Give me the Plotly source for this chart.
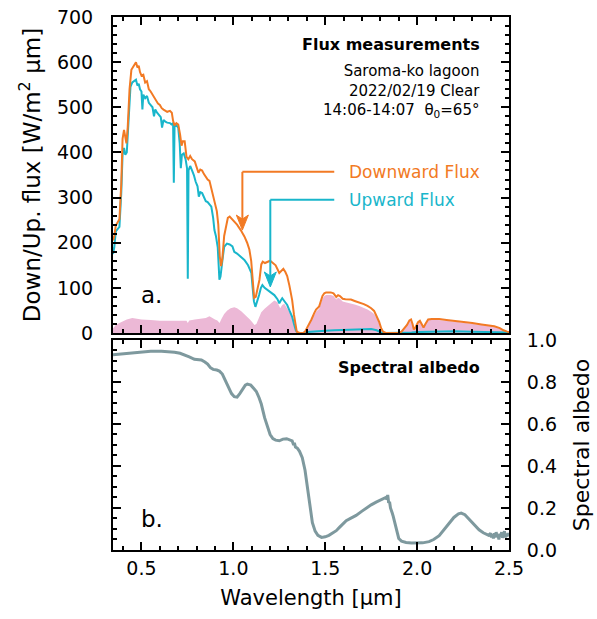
import plotly.graph_objects as go

# ---------------- data ----------------
wl_down = [0.345, 0.352, 0.36, 0.37, 0.38, 0.39, 0.397, 0.405, 0.41, 0.418, 0.425, 0.435, 0.445, 0.455, 0.462,
           0.47, 0.478, 0.485, 0.492, 0.5, 0.51, 0.52, 0.53, 0.54, 0.55, 0.56, 0.57, 0.58, 0.59, 0.6, 0.61, 0.62,
           0.63, 0.64, 0.655, 0.665, 0.672, 0.68, 0.69, 0.7, 0.71, 0.718, 0.725, 0.735, 0.745, 0.755, 0.765, 0.775,
           0.79, 0.8, 0.81, 0.82, 0.83, 0.84, 0.85, 0.86, 0.87, 0.88, 0.89, 0.9, 0.91, 0.918, 0.926, 0.933, 0.94,
           0.95, 0.96, 0.97, 0.98, 0.99, 1.0, 1.02, 1.04, 1.06, 1.075, 1.087, 1.097, 1.105, 1.113, 1.122, 1.132,
           1.142, 1.152, 1.16, 1.172, 1.185, 1.2, 1.215, 1.23, 1.25, 1.262, 1.272, 1.283, 1.293, 1.305, 1.32, 1.33,
           1.337, 1.345, 1.36, 1.38, 1.39, 1.40, 1.413, 1.425, 1.44, 1.45, 1.467, 1.475, 1.485, 1.495, 1.505, 1.53,
           1.545, 1.56, 1.57, 1.58, 1.595, 1.61, 1.64, 1.66, 1.685, 1.71, 1.73, 1.75, 1.766, 1.78, 1.793, 1.805,
           1.815, 1.83, 1.9, 1.915, 1.93, 1.945, 1.958, 1.967, 1.975, 1.982, 1.99, 2.005, 2.015, 2.025, 2.035,
           2.045, 2.06, 2.08, 2.12, 2.16, 2.21, 2.26, 2.3, 2.35, 2.39, 2.42, 2.45, 2.47, 2.49, 2.5]
flux_down = [205, 215, 238, 245, 252, 330, 430, 450, 440, 420, 455, 540, 583, 590, 597,
             600, 588, 592, 578, 570, 572, 555, 558, 540, 535, 528, 520, 515, 508, 505, 498, 495,
             492, 490, 492, 488, 470, 460, 465, 462, 440, 415, 425, 425, 390, 385, 392, 385,
             380, 368, 355, 362, 360, 352, 345, 340, 337, 320, 305, 288, 270, 240, 170, 148, 165,
             215, 240, 255, 258, 254, 250, 240, 228, 214, 200, 185, 160, 120, 78, 80, 100,
             118, 152, 158, 155, 157, 160, 155, 150, 133, 138, 142, 135, 126, 105, 73, 40,
             18, 3, 0, 0, 3, 10, 20, 30, 44, 52, 59, 70, 82, 88, 90, 90,
             88, 80, 84, 82, 76, 75, 74, 71, 68, 64, 60, 55, 49, 38, 25, 10,
             3, 0, 0, 3, 10, 18, 28, 30, 20, 8, 12, 24, 27, 20, 12,
             20, 30, 31, 31, 29, 27, 24, 22, 19, 17, 15, 11, 6, 3, 2]

wl_up = [0.345, 0.352, 0.36, 0.37, 0.38, 0.39, 0.397, 0.405, 0.412, 0.42, 0.43, 0.44, 0.45, 0.46, 0.47, 0.478,
         0.485, 0.492, 0.5, 0.505, 0.51, 0.52, 0.53, 0.54, 0.55, 0.56, 0.568, 0.575, 0.585, 0.595, 0.605, 0.612,
         0.62, 0.63, 0.64, 0.655, 0.663, 0.672, 0.676, 0.68, 0.69, 0.7, 0.708, 0.714, 0.72, 0.73, 0.74, 0.748,
         0.752, 0.756, 0.765, 0.775, 0.785, 0.795, 0.805, 0.812, 0.82, 0.83, 0.84, 0.85, 0.86, 0.87, 0.88, 0.89,
         0.897, 0.905, 0.915, 0.924, 0.93, 0.94, 0.95, 0.965, 0.98, 0.995, 1.005, 1.02, 1.04, 1.06, 1.08, 1.098,
         1.105, 1.112, 1.12, 1.13, 1.14, 1.15, 1.158, 1.17, 1.185, 1.2, 1.223, 1.24, 1.25, 1.258, 1.266, 1.275,
         1.285, 1.293, 1.305, 1.32, 1.33, 1.34, 1.35, 1.38, 1.4, 1.45, 1.5, 1.55, 1.6, 1.65, 1.7, 1.75, 1.78,
         1.8, 1.82, 1.93, 1.97, 2.0, 2.1, 2.2, 2.3, 2.4, 2.5]
flux_up = [175, 190, 225, 230, 235, 310, 395, 410, 395, 400, 480, 545, 555, 558, 561, 548,
           552, 540, 535, 495, 528, 520, 525, 510, 505, 500, 480, 495, 488, 483, 478, 455,
           472, 468, 466, 465, 462, 465, 333, 458, 460, 455, 420, 365, 395, 398, 385, 365,
           120, 360, 370, 360, 350, 335, 325, 302, 312, 310, 300, 292, 290, 285, 280, 255,
           228, 215, 190, 118, 125, 160, 191, 198, 196, 192, 180, 176, 168, 162, 150, 133,
           100, 70, 58, 70, 84, 100, 106, 100, 95, 90, 84, 75, 66, 72, 77, 72,
           66, 62, 50, 36, 20, 6, 0, 0, 2, 4, 5, 6, 7, 8, 9, 9, 6,
           2, 0, 0, 1, 2, 3, 4, 3, 2, 1]

wl_abs = [0.345, 0.36, 0.38, 0.4, 0.42, 0.45, 0.48, 0.5, 0.55, 0.6, 0.65, 0.7, 0.745, 0.752, 0.76, 0.79, 0.82,
          0.85, 0.87, 0.885, 0.9, 0.913, 0.925, 0.935, 0.95, 0.967, 0.985, 1.005, 1.02, 1.043, 1.06, 1.076, 1.09,
          1.103, 1.115, 1.125, 1.14, 1.152, 1.17, 1.185, 1.205, 1.223, 1.24, 1.255, 1.266, 1.277, 1.29, 1.30,
          1.315, 1.33, 1.34, 1.345, 1.39, 1.4, 1.413, 1.425, 1.44, 1.45, 1.467, 1.475, 1.485, 1.495, 1.505, 1.53,
          1.545, 1.56, 1.57, 1.58, 1.595, 1.61, 1.64, 1.66, 1.685, 1.71, 1.73, 1.75, 1.766, 1.78, 1.793, 1.805,
          1.815, 1.83, 1.9, 1.915, 1.93, 1.945, 1.958, 1.967, 1.975, 1.982, 1.99, 2.005, 2.015, 2.025, 2.035,
          2.045, 2.06, 2.08, 2.12, 2.16, 2.21, 2.26, 2.3, 2.35, 2.39, 2.42, 2.45, 2.47, 2.49, 2.5]
flux_abs = [10, 18, 22, 26, 30, 33, 31, 30, 29, 27, 27, 27, 27, 22, 28, 30, 31,
            33, 37, 33, 30, 28, 22, 31, 42, 50, 55, 57, 55, 48, 42, 35, 30,
            24, 18, 20, 33, 46, 54, 60, 66, 72, 68, 55, 62, 65, 56, 50,
            40, 26, 8, 0, 0, 8, 18, 27, 39, 47, 54, 65, 76, 82, 84, 84,
            82, 74, 78, 76, 70, 68, 66, 63, 60, 56, 52, 47, 42, 33, 22, 9,
            2, 0, 0, 3, 9, 17, 27, 29, 19, 8, 11, 23, 26, 19, 11,
            19, 29, 30, 29, 27, 25, 22, 21, 18, 16, 14, 10, 5, 2, 1]

wl_alb = [0.345, 0.4, 0.478, 0.55, 0.609, 0.65, 0.68, 0.71, 0.734, 0.76, 0.788, 0.81, 0.826, 0.845, 0.86, 0.875,
          0.89, 0.91, 0.924, 0.94, 0.955, 0.975, 0.99, 1.005, 1.02, 1.035, 1.05, 1.065, 1.076, 1.095, 1.11, 1.125,
          1.14, 1.152, 1.17, 1.185, 1.2, 1.215, 1.23, 1.25, 1.27, 1.29, 1.31, 1.32, 1.328, 1.332, 1.338, 1.348,
          1.36, 1.375, 1.39, 1.4, 1.41, 1.42, 1.43, 1.445, 1.46, 1.48, 1.5, 1.52, 1.54, 1.56, 1.58, 1.6, 1.614,
          1.64, 1.668, 1.7, 1.723, 1.75, 1.777, 1.8, 1.82, 1.83, 1.835, 1.84, 1.845, 1.85, 1.855, 1.86, 1.865,
          1.87, 1.875, 1.88, 1.885, 1.89, 1.9, 1.915, 1.94, 1.97, 2.0, 2.03, 2.065, 2.09, 2.12, 2.15, 2.174, 2.2,
          2.225, 2.24, 2.26, 2.283, 2.31, 2.337, 2.36, 2.38, 2.39, 2.40, 2.405, 2.41, 2.415, 2.42, 2.425, 2.43,
          2.435, 2.44, 2.445, 2.45, 2.455, 2.46, 2.465, 2.47, 2.475, 2.48, 2.485, 2.49, 2.495, 2.5]
albedo = [0.93, 0.935, 0.943, 0.946, 0.946, 0.944, 0.942, 0.937, 0.93, 0.92, 0.908, 0.906, 0.905, 0.895, 0.885,
          0.868, 0.86, 0.857, 0.852, 0.838, 0.81, 0.77, 0.745, 0.73, 0.728, 0.745, 0.765, 0.785, 0.79, 0.785, 0.77,
          0.755, 0.725, 0.695, 0.63, 0.585, 0.55, 0.53, 0.523, 0.52, 0.528, 0.53, 0.525, 0.52, 0.5, 0.51, 0.49,
          0.485, 0.47, 0.44, 0.38, 0.32, 0.25, 0.18, 0.13, 0.09, 0.07, 0.06, 0.063, 0.07, 0.08, 0.092, 0.11, 0.13,
          0.14, 0.152, 0.165, 0.185, 0.2, 0.215, 0.228, 0.237, 0.245, 0.25, 0.242, 0.262, 0.225, 0.23, 0.2, 0.19,
          0.175, 0.16, 0.14, 0.13, 0.11, 0.085, 0.055, 0.042, 0.036, 0.033, 0.032, 0.034, 0.04, 0.05, 0.068, 0.1,
          0.13, 0.155, 0.172, 0.176, 0.168, 0.148, 0.12, 0.096, 0.082, 0.075, 0.07, 0.08, 0.06, 0.075, 0.055, 0.08,
          0.06, 0.085, 0.065, 0.072, 0.05, 0.078, 0.062, 0.085, 0.058, 0.07, 0.09, 0.06, 0.075, 0.065, 0.08, 0.07]

flux_ticks = [0, 100, 200, 300, 400, 500, 600, 700]
albedo_ticks = [0.0, 0.2, 0.4, 0.6, 0.8, 1.0]
wl_ticks = [0.5, 1.0, 1.5, 2.0, 2.5]

# ---------------- style ----------------
FONT = "DejaVu Sans"
ORANGE = "#f27a24"
CYAN = "#19b6cb"
PINK = "#ecb8d6"
GREY = "#7e999e"
XR = [0.345, 2.5]

fig = go.Figure()
fig.add_trace(go.Scatter(x=wl_abs, y=flux_abs, mode="lines", fill="tozeroy", fillcolor=PINK,
                         line=dict(width=0, color=PINK), xaxis="x2", yaxis="y2", showlegend=False))
fig.add_trace(go.Scatter(x=wl_up, y=flux_up, mode="lines", line=dict(color=CYAN, width=2),
                         xaxis="x2", yaxis="y2", showlegend=False))
fig.add_trace(go.Scatter(x=wl_down, y=flux_down, mode="lines", line=dict(color=ORANGE, width=2),
                         xaxis="x2", yaxis="y2", showlegend=False))
fig.add_trace(go.Scatter(x=wl_alb, y=albedo, mode="lines", line=dict(color=GREY, width=3),
                         xaxis="x", yaxis="y", showlegend=False))

axis_common = dict(showline=True, linecolor="black", linewidth=2, mirror="allticks", ticks="inside",
                   tickcolor="black", tickwidth=2, ticklen=8, showgrid=False, zeroline=False,
                   automargin=False, ticklabeloverflow="allow",
                   tickfont=dict(family=FONT, size=19, color="black"))
minor_common = dict(ticks="inside", ticklen=4, tickcolor="black", tickwidth=1.5)

fig.update_layout(
    width=597, height=619, paper_bgcolor="white", plot_bgcolor="white",
    margin=dict(l=113, r=88, t=17, b=69, autoexpand=False),
    font=dict(family=FONT, color="black"),
    xaxis=dict(domain=[0, 1], anchor="y", range=XR, tickvals=wl_ticks, tickformat=".1f",
               minor=dict(dtick=0.1, tick0=0.5, **minor_common),
               title=dict(text="Wavelength [μm]", font=dict(family=FONT, size=21), standoff=13),
               **axis_common),
    yaxis=dict(domain=[0, 0.394], anchor="x", range=[0, 1.0], side="right", tickvals=albedo_ticks,
               tickformat=".1f", ticklabelstandoff=12,
               minor=dict(dtick=0.05, tick0=0, **minor_common),
               title=dict(text="Spectral albedo", font=dict(family=FONT, size=22), standoff=18),
               **axis_common),
    xaxis2=dict(domain=[0, 1], anchor="y2", range=XR, tickvals=wl_ticks, showticklabels=False,
                minor=dict(dtick=0.1, tick0=0.5, **minor_common),
                **axis_common),
    yaxis2=dict(domain=[0.4071, 1], anchor="x2", range=[0, 700], tickvals=flux_ticks, ticklabelstandoff=14,
                minor=dict(dtick=20, tick0=0, **minor_common),
                title=dict(text="Down/Up. flux [W/m<sup>2</sup> μm]", font=dict(family=FONT, size=23),
                           standoff=10),
                **axis_common),
)

# arrows (L-shaped leader lines with pixel-sized arrowheads)
ARROW_PATH = "M 0,0 L -6,15 L 0,11 L 6,15 Z"
for xa, ytop, ytip, xend, col in [(1.049, 357, 228, 1.549, ORANGE), (1.201, 295, 102, 1.549, CYAN)]:
    fig.add_shape(type="line", xref="x2", yref="y2", x0=xa, x1=xend, y0=ytop, y1=ytop,
                  line=dict(color=col, width=2))
    fig.add_shape(type="line", xref="x2", yref="y2", x0=xa, x1=xa, y0=ytop, y1=ytip + 20,
                  line=dict(color=col, width=2))
    fig.add_shape(type="path", xref="x2", yref="y2", xsizemode="pixel", ysizemode="pixel",
                  xanchor=xa, yanchor=ytip, path=ARROW_PATH, fillcolor=col,
                  line=dict(color=col, width=1))

fig.add_annotation(xref="x2", yref="y2", x=1.62, y=357, text="Downward Flux", showarrow=False,
                   xanchor="left", yanchor="middle", font=dict(family=FONT, size=17, color=ORANGE))
fig.add_annotation(xref="x2", yref="y2", x=1.62, y=295, text="Upward Flux", showarrow=False,
                   xanchor="left", yanchor="middle", font=dict(family=FONT, size=17, color=CYAN))

fig.add_annotation(xref="paper", yref="paper", x=0.932, y=0.949, text="<b>Flux measurements</b>",
                   showarrow=False, xanchor="right", yanchor="middle", font=dict(family=FONT, size=16))
fig.add_annotation(xref="paper", yref="paper", x=0.932, y=0.92,
                   text="Saroma-ko lagoon<br>2022/02/19 Clear<br>14:06-14:07  θ<sub>0</sub>=65°",
                   showarrow=False, xanchor="right", yanchor="top", align="right",
                   font=dict(family=FONT, size=15))
fig.add_annotation(xref="paper", yref="paper", x=0.932, y=0.3415, text="<b>Spectral albedo</b>",
                   showarrow=False, xanchor="right", yanchor="middle", font=dict(family=FONT, size=16))
fig.add_annotation(xref="paper", yref="paper", x=0.098, y=0.478, text="a.",
                   showarrow=False, xanchor="center", yanchor="middle", font=dict(family=FONT, size=23))
fig.add_annotation(xref="paper", yref="paper", x=0.098, y=0.058, text="b.",
                   showarrow=False, xanchor="center", yanchor="middle", font=dict(family=FONT, size=23))

# remove the browser's default 8px page margin so the figure sits at the window's corner
fig.write_html("out.html", config={"displayModeBar": False},
               post_script="document.body.style.margin='0';")
